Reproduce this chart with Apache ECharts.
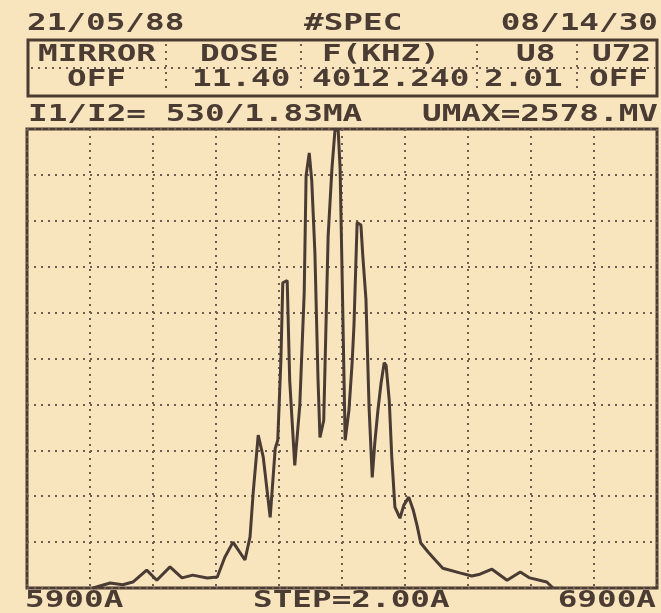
<!DOCTYPE html>
<html>
<head>
	<meta charset="utf-8">
	<title>SPEC</title>
	<script src="https://cdn.jsdelivr.net/npm/echarts@6/dist/echarts.min.js"></script>
	<style>
		html, body { margin: 0; padding: 0; background: #f8e4bd; }
		#main { width: 661px; height: 613px; }
	</style>
</head>
<body>
	<div id="main"></div>
	<script>
		// spectrum trace (wavelength in A, intensity in % of UMAX)
		var wavelength = [6005, 6032, 6052, 6068, 6090, 6106, 6127, 6146, 6163, 6186, 6202, 6214, 6227, 6246,
			6254, 6259, 6267, 6275, 6286, 6294, 6298, 6303, 6306, 6313, 6317, 6325, 6333, 6340, 6343, 6348,
			6352, 6357, 6362, 6365, 6371, 6378, 6384, 6389, 6394, 6397, 6400, 6405, 6411, 6416, 6419, 6424,
			6430, 6433, 6438, 6443, 6448, 6452, 6457, 6462, 6467, 6470, 6475, 6479, 6484, 6492, 6498, 6506,
			6513, 6519, 6525, 6537, 6548, 6560, 6587, 6606, 6619, 6638, 6662, 6683, 6698, 6725, 6735]
		var intensity = [0, 1.1, 0.7, 1.3, 3.9, 1.7, 4.6, 2.2, 2.8, 2.2, 2.4, 6.7, 10.0, 6.1,
			11.1, 20.7, 33.3, 28.5, 15.4, 30.4, 32.2, 49.6, 66.5, 67.0, 45.2, 26.7, 39.8, 64.3, 89.8, 94.8,
			88.7, 73.0, 45.2, 32.8, 36.5, 76.7, 91.3, 100, 99.6, 91.3, 69.6, 32.2, 38.7, 48.9, 57.2, 79.6,
			79.1, 72.4, 63.0, 39.3, 24.1, 31.5, 38.7, 44.6, 49.1, 48.5, 40.9, 28.5, 17.6, 15.2, 18.0, 19.8,
			17.0, 13.7, 9.8, 7.8, 6.1, 4.3, 3.3, 2.6, 3.0, 4.1, 1.7, 3.5, 2.2, 1.3, 0]

		var titleRow = ["21/05/88", "#SPEC", "08/14/30"]
		var tableHead = ["MIRROR", "DOSE", "F(KHZ)", "U8", "U72"]
		var tableVals = ["OFF", "11.40", "4012.240", "2.01", "OFF"]
		var infoRow = ["I1/I2= 530/1.83MA", "UMAX=2578.MV"]
		var bottomRow = ["5900A", "STEP=2.00A", "6900A"]

		var ink = "#4a3b33"
		var dots = "#6e5c50"
		var font = "bold 23px 'DejaVu Sans Mono'"
		var sx = 1.42

		function txt(s, x, y, align) {
			return {
				type: "text", x: x, y: y, scaleX: sx, silent: true,
				style: { text: s, x: 0, y: 0, font: font, fill: ink, textAlign: align || "left", textVerticalAlign: "middle" }
			}
		}
		function dotted(x1, y1, x2, y2) {
			return {
				type: "line", silent: true,
				shape: { x1: x1, y1: y1, x2: x2, y2: y2 },
				style: { stroke: dots, lineWidth: 2, lineDash: [2, 5] }
			}
		}

		var data = []
		for (var i = 0; i < wavelength.length; i++) data.push([wavelength[i], intensity[i]])

		var headX = [38, 200, 322, 516, 592]
		var valX = [67, 192, 312, 484, 589]
		var sepX = [166, 301, 477, 577]

		var graphic = [
			txt(titleRow[0], 27, 24),
			txt(titleRow[1], 304, 24),
			txt(titleRow[2], 658, 24, "right"),
			{
				type: "rect", silent: true,
				shape: { x: 28, y: 40, width: 629, height: 56 },
				style: { fill: null, stroke: ink, lineWidth: 3 }
			},
			dotted(31, 68, 655, 68),
			txt(infoRow[0], 28, 115),
			txt(infoRow[1], 658, 115, "right"),
			txt(bottomRow[0], 25, 601),
			txt(bottomRow[1], 253, 601),
			txt(bottomRow[2], 656, 601, "right")
		]
		for (var k = 0; k < tableHead.length; k++) {
			graphic.push(txt(tableHead[k], headX[k], 55))
			graphic.push(txt(tableVals[k], valX[k], 80))
		}
		for (var k = 0; k < sepX.length; k++) graphic.push(dotted(sepX[k], 44, sepX[k], 92))

		var chart = echarts.init(document.getElementById("main"))
		chart.setOption({
			backgroundColor: "#f8e4bd",
			animation: false,
			grid: {
				left: 27, top: 129, width: 630, height: 459,
				show: true, borderColor: ink, borderWidth: 3, backgroundColor: "transparent"
			},
			xAxis: {
				type: "value", min: 5900, max: 6900, interval: 100,
				axisLine: { show: false }, axisTick: { show: false }, axisLabel: { show: false },
				splitLine: { show: true, lineStyle: { color: dots, width: 2, type: [2, 5] } }
			},
			yAxis: {
				type: "value", min: 0, max: 100, interval: 10,
				axisLine: { show: false }, axisTick: { show: false }, axisLabel: { show: false },
				splitLine: { show: true, lineStyle: { color: dots, width: 2, type: [2, 5] } }
			},
			series: [{
				type: "line",
				data: data,
				showSymbol: false,
				clip: false,
				lineStyle: { color: ink, width: 3 }
			}],
			graphic: graphic
		})
	</script>
</body>
</html>
